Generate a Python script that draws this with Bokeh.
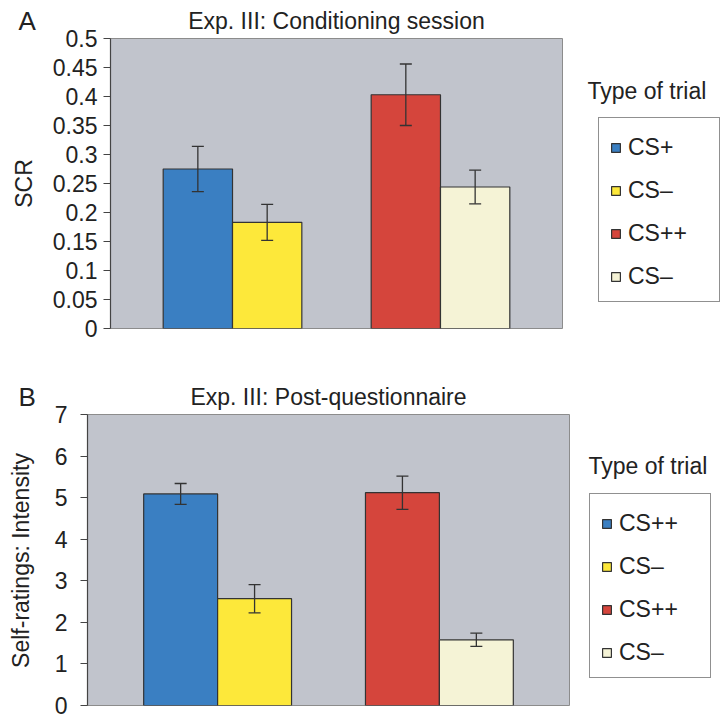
import math
from bokeh.plotting import figure
from bokeh.models import (Range1d, FixedTicker, Whisker, TeeHead, ColumnDataSource,
                          Legend, LegendItem, Label)
from bokeh.layouts import column, row
from bokeh.embed import file_html
from bokeh.resources import INLINE

FONT = "Liberation Sans"
TXT = "#222222"
FS = "23px"

# ---------------- data ----------------
trial_types_a = ["CS+", "CS\u2013", "CS++", "CS\u2013"]
trial_types_b = ["CS++", "CS\u2013", "CS++", "CS\u2013"]
bar_colors = ["#3a7fc2", "#fde83a", "#d5453c", "#f5f3d6"]

scr_mean = [0.275, 0.183, 0.403, 0.244]
scr_err = [0.039, 0.031, 0.053, 0.029]
scr_ticks = [0, 0.05, 0.1, 0.15, 0.2, 0.25, 0.3, 0.35, 0.4, 0.45, 0.5]
scr_tick_labels = ["0", "0.05", "0.1", "0.15", "0.2", "0.25", "0.3", "0.35", "0.4", "0.45", "0.5"]

int_mean = [5.09, 2.57, 5.12, 1.58]
int_err = [0.25, 0.34, 0.40, 0.16]
int_ticks = [0, 1, 2, 3, 4, 5, 6, 7]
int_tick_labels = ["0", "1", "2", "3", "4", "5", "6", "7"]

title_a = "Exp. III: Conditioning session"
title_b = "Exp. III: Post-questionnaire"
ylabel_a = "SCR"
ylabel_b = "Self-ratings: Intensity"
legend_title = "Type of trial"

# bar positions: two groups of two bars
x_pos = [g * 3 + 1.0 + k for g in range(2) for k in range(2)]
XS, XE = -0.26, 6.26


def blank_fig(fw, fh, bt, bb):
    f = figure(width=fw, height=bt + fh + bb, frame_width=fw, frame_height=fh,
               min_border_left=0, min_border_right=0, min_border_top=bt, min_border_bottom=bb,
               x_range=Range1d(0, fw), y_range=Range1d(0, fh),
               x_axis_location=None, y_axis_location=None,
               output_backend="svg", toolbar_location=None)
    f.xgrid.visible = False
    f.ygrid.visible = False
    f.outline_line_color = None
    f.background_fill_color = "white"
    f.border_fill_color = "white"
    return f


def make_main(title, means, errs, ticks, tick_labels, y_end, fw, fh, bl, br, bt, bb,
              tick_standoff, title_standoff):
    p = figure(width=bl + fw + br, height=bt + fh + bb, frame_width=fw, frame_height=fh,
               min_border_left=bl, min_border_top=bt, min_border_right=br, min_border_bottom=bb,
               x_range=Range1d(XS, XE), y_range=Range1d(0, y_end),
               x_axis_location=None, output_backend="svg", toolbar_location=None)
    p.background_fill_color = "#c1c4cc"
    p.border_fill_color = "white"
    p.outline_line_color = "#8c8c8c"
    p.outline_line_width = 1
    p.xgrid.visible = False
    p.ygrid.visible = False

    p.title.text = title
    p.title.align = "center"
    p.title.text_font = FONT
    p.title.text_font_size = FS
    p.title.text_font_style = "normal"
    p.title.text_color = TXT
    p.title.standoff = title_standoff

    ax = p.yaxis[0]
    ax.ticker = FixedTicker(ticks=ticks)
    ax.major_label_overrides = {t: s for t, s in zip(ticks, tick_labels)}
    ax.minor_tick_line_color = None
    ax.major_tick_in = 0
    ax.major_tick_out = 7
    ax.major_tick_line_color = "#444444"
    ax.major_tick_line_width = 1.2
    ax.axis_line_color = "#444444"
    ax.axis_line_width = 1.2
    ax.major_label_text_font = FONT
    ax.major_label_text_font_size = FS
    ax.major_label_text_color = TXT
    ax.major_label_standoff = tick_standoff

    src = ColumnDataSource(dict(x=x_pos,
                                upper=[m + e for m, e in zip(means, errs)],
                                lower=[m - e for m, e in zip(means, errs)]))
    for i in range(4):
        p.vbar(x=[x_pos[i]], top=[means[i]], width=1.0, bottom=0,
               fill_color=bar_colors[i], line_color="#333333", line_width=1.2)

    w_ = Whisker(base="x", upper="upper", lower="lower", source=src, dimension="height",
                 line_color="#333333", line_width=1.3, level="annotation",
                 upper_head=TeeHead(size=12, line_color="#333333", line_width=1.3),
                 lower_head=TeeHead(size=12, line_color="#333333", line_width=1.3))
    p.add_layout(w_)
    return p


def make_left(letter, ylabel, fw, fh, bt, bb, letter_x, letter_standoff, lab_x, lab_cy):
    f = blank_fig(fw, fh, bt, bb)
    f.title.text = letter
    f.title.align = "left"
    f.title.offset = letter_x
    f.title.standoff = letter_standoff
    f.title.text_font = FONT
    f.title.text_font_size = "26px"
    f.title.text_font_style = "normal"
    f.title.text_color = TXT
    f.add_layout(Label(x=lab_x, y=lab_cy, text=ylabel, angle=math.pi / 2,
                       text_align="center", text_baseline="alphabetic", text_font=FONT,
                       text_font_size=FS, text_color=TXT))
    return f


def make_right(labels, means, fw, fh, bt, bb, tot_x, tot_y, leg_x, leg_y):
    f = blank_fig(fw, fh, bt, bb)
    rs = []
    for i in range(4):
        r = f.vbar(x=[x_pos[i]], top=[means[i]], width=1.0, bottom=0,
                   fill_color=bar_colors[i], line_color="#333333", line_width=1.2,
                   visible=False)
        rs.append(r)
    items = [LegendItem(label=labels[i], renderers=[rs[i]]) for i in range(4)]
    leg = Legend(items=items, location=(leg_x, leg_y), padding=11, spacing=16,
                 label_height=26, label_width=80, glyph_width=11, glyph_height=11,
                 label_standoff=7, title=" ", title_text_font_size="1px", title_standoff=4,
                 border_line_color="#222222", border_line_width=1.3,
                 background_fill_color="white", background_fill_alpha=1.0, margin=0,
                 inactive_fill_alpha=0.0,
                 label_text_font=FONT, label_text_font_size=FS, label_text_color=TXT)
    f.add_layout(leg)
    f.add_layout(Label(x=tot_x, y=tot_y, text=legend_title, text_align="left",
                       text_baseline="alphabetic", text_font=FONT, text_font_size=FS,
                       text_color=TXT))
    return f


# ---------- panel A (image rows 0..360): frame y 38..328 ----------
A_BT, A_FH, A_BB = 38, 290, 32
left_a = make_left("A", ylabel_a, 48, A_FH, A_BT, A_BB, letter_x=18, letter_standoff=5,
                   lab_x=23, lab_cy=145)
main_a = make_main(title_a, scr_mean, scr_err, scr_ticks, scr_tick_labels, 0.5,
                   fw=452, fh=A_FH, bl=62, br=8, bt=A_BT, bb=A_BB,
                   tick_standoff=6, title_standoff=9)
right_a = make_right(trial_types_a, scr_mean, 158, A_FH, A_BT, A_BB,
                     tot_x=17, tot_y=238, leg_x=28, leg_y=26)

# ---------- panel B (image rows 360..722): frame y 414..705 ----------
B_BT, B_FH, B_BB = 54, 291, 17
left_b = make_left("B", ylabel_b, 48, B_FH, B_BT, B_BB, letter_x=18, letter_standoff=6,
                   lab_x=20, lab_cy=145)
main_b = make_main(title_b, int_mean, int_err, int_ticks, int_tick_labels, 7,
                   fw=482, fh=B_FH, bl=39, br=7, bt=B_BT, bb=B_BB,
                   tick_standoff=13, title_standoff=10)
right_b = make_right(trial_types_b, int_mean, 152, B_FH, B_BT, B_BB,
                     tot_x=12, tot_y=240, leg_x=13, leg_y=27)

layout = column(row(left_a, main_a, right_a, spacing=0),
                row(left_b, main_b, right_b, spacing=0), spacing=0)
open("out.html", "w").write(file_html(layout, INLINE))
